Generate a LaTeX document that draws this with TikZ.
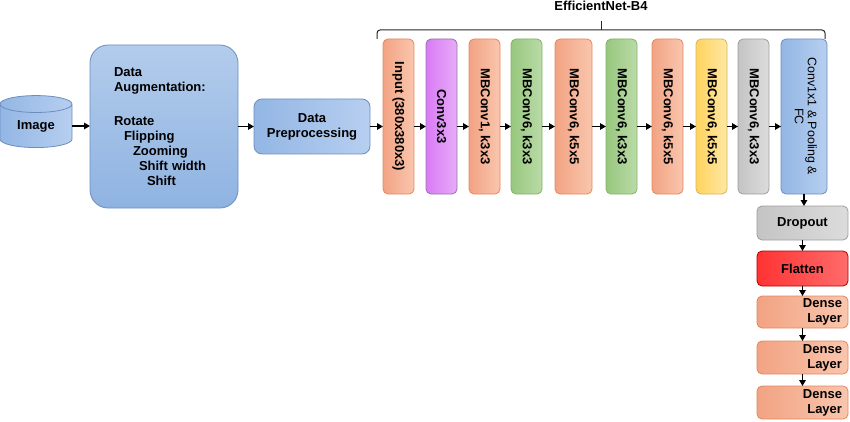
\documentclass[tikz,border=0pt]{standalone}
\usepackage{fontspec}
\setmainfont{Liberation Sans}
\usepackage{graphicx}
\usetikzlibrary{arrows.meta,positioning,calc,shapes.geometric}

\definecolor{orgB}{HTML}{E4875F}\definecolor{orgL}{HTML}{F2A383}\definecolor{orgR}{HTML}{F9C6AE}
\definecolor{grnB}{HTML}{82B366}\definecolor{grnL}{HTML}{97C77E}\definecolor{grnR}{HTML}{BADBA8}
\definecolor{purB}{HTML}{9673A6}\definecolor{purL}{HTML}{D97BF5}\definecolor{purR}{HTML}{E6ACF8}
\definecolor{yelB}{HTML}{D6B656}\definecolor{yelL}{HTML}{FFD35F}\definecolor{yelR}{HTML}{FFE8A3}
\definecolor{gryB}{HTML}{9E9E9E}\definecolor{gryL}{HTML}{C4C4C4}\definecolor{gryR}{HTML}{DCDCDC}
\definecolor{bluB}{HTML}{6C8EBF}\definecolor{bluL}{HTML}{93B6E4}\definecolor{bluR}{HTML}{B7CFF0}
\definecolor{redB}{HTML}{B20000}\definecolor{redL}{HTML}{FF3333}\definecolor{redR}{HTML}{FF6B6B}
\definecolor{augT}{HTML}{B3CCEC}\definecolor{augB}{HTML}{8FB3E1}

\begin{document}
\begin{tikzpicture}[x=1pt,y=-1pt,
  font=\bfseries\fontsize{13}{15}\selectfont,
  b/.style={draw,rounded corners=5pt,line width=0.8pt,minimum width=31pt,minimum height=155pt,inner sep=0pt,outer sep=0pt},
  org/.style={b,draw=orgB,left color=orgL,right color=orgR},
  grn/.style={b,draw=grnB,left color=grnL,right color=grnR},
  pur/.style={b,draw=purB,left color=purL,right color=purR},
  yel/.style={b,draw=yelB,left color=yelL,right color=yelR},
  gry/.style={b,draw=gryB,left color=gryL,right color=gryR},
  blu/.style={b,draw=bluB,left color=bluL,right color=bluR},
  red/.style={b,draw=redB,left color=redL,right color=redR},
  stk/.style={minimum width=91pt,minimum height=33pt},
  arr/.style={-{Triangle[length=6pt,width=6.5pt]},line width=1.4pt},
  brc/.style={line width=1pt,rounded corners=3pt,black!85}
]
\useasboundingbox (0,0) rectangle (850,422);
% input side
\node[cylinder,shape border rotate=90,draw=bluB,line width=0.8pt,left color=bluL,right color=bluR,minimum width=72pt,minimum height=52pt,aspect=0.45,inner sep=0pt,outer sep=0pt] (img) at (36,126) {\raisebox{-2pt}{Image}};
\node[draw=bluB,line width=0.8pt,rounded corners=18pt,top color=augT,bottom color=augB,minimum width=148pt,minimum height=163pt,text width=100pt,align=left,inner sep=0pt,outer sep=0pt] (aug) at (164,126.5)
  {Data\\Augmentation:\\[19pt]Rotate\\\hspace*{10pt}Flipping\\\hspace*{19pt}Zooming\\\hspace*{25pt}Shift width\\\hspace*{33pt}Shift};
\node[blu,rounded corners=8pt,minimum width=116pt,minimum height=55pt,align=center] (pre) at (312,126.5) {Data\\Preprocessing};
% EfficientNet-B4 blocks
\node[org] (inp) at (398.5,116.5) {\rotatebox{-90}{Input (380x380x3)}};
\node[pur,right=12pt of inp] (c33) {\rotatebox{-90}{Conv3x3}};
\node[org,right=12pt of c33] (mb1) {\rotatebox{-90}{MBConv1, k3x3}};
\node[grn,right=11pt of mb1] (m6a) {\rotatebox{-90}{MBConv6, k3x3}};
\node[org,right=13pt of m6a,minimum width=37pt] (m6b) {\rotatebox{-90}{MBConv6, k5x5}};
\node[grn,right=14pt of m6b] (m6c) {\rotatebox{-90}{MBConv6, k3x3}};
\node[org,right=15pt of m6c] (m6d) {\rotatebox{-90}{MBConv6, k5x5}};
\node[yel,right=13pt of m6d] (m6e) {\rotatebox{-90}{MBConv6, k5x5}};
\node[gry,right=11pt of m6e] (m6f) {\rotatebox{-90}{MBConv6, k3x3}};
\node[blu,right=12pt of m6f,minimum width=46pt] (fc) {\rotatebox{-90}{\mdseries\fontsize{12.4}{13}\selectfont\def\arraystretch{1}\begin{tabular}{@{}c@{}}Conv1x1 \& Pooling \&\\FC\end{tabular}}};
% brace
\coordinate (bl) at ([xshift=-6pt,yshift=9pt]inp.north west);
\coordinate (br) at ([xshift=-2pt,yshift=9pt]fc.north east);
\coordinate (btop) at ($(bl)!0.5!(br)+(0,-9)$);
\draw[brc] ([xshift=-6pt]inp.north west) -- (bl) -- (br) -- ([xshift=-2pt]fc.north east);
\draw[brc] ($(bl)!0.5!(br)$) -- (btop);
\node[above=10pt of btop,inner sep=0pt] (eff) {EfficientNet-B4};
% head
\node[gry,stk,minimum height=34pt,below=12pt of fc,xshift=-1.5pt] (drp) {Dropout};
\node[red,stk,minimum height=35pt,below=11pt of drp] (flt) {Flatten};
\node[org,stk,minimum height=32pt,below=10pt of flt,text width=79pt,align=right] (d1) {Dense\\Layer};
\node[org,stk,below=13pt of d1,text width=79pt,align=right] (d2) {Dense\\Layer};
\node[org,stk,below=12pt of d2,text width=79pt,align=right] (d3) {Dense\\Layer};
% arrows
\draw[arr] (img.east) -- (img.east -| aug.west);
\draw[arr] (pre -| aug.east) -- (pre.west);
\draw[arr] (pre.east) -- (pre -| inp.west);
\draw[arr] (pre -| inp.east) -- (pre -| c33.west);
\draw[arr] (pre -| c33.east) -- (pre -| mb1.west);
\draw[arr] (pre -| mb1.east) -- (pre -| m6a.west);
\draw[arr] (pre -| m6a.east) -- (pre -| m6b.west);
\draw[arr] (pre -| m6b.east) -- (pre -| m6c.west);
\draw[arr] (pre -| m6c.east) -- (pre -| m6d.west);
\draw[arr] (pre -| m6d.east) -- (pre -| m6e.west);
\draw[arr] (pre -| m6e.east) -- (pre -| m6f.west);
\draw[arr] (pre -| m6f.east) -- (pre -| fc.west);
\draw[arr] (fc.south) -- (fc.south |- drp.north);
\draw[arr] (drp) -- (flt);
\draw[arr] (flt) -- (d1);
\draw[arr] (d1) -- (d2);
\draw[arr] (d2) -- (d3);
\end{tikzpicture}
\end{document}
